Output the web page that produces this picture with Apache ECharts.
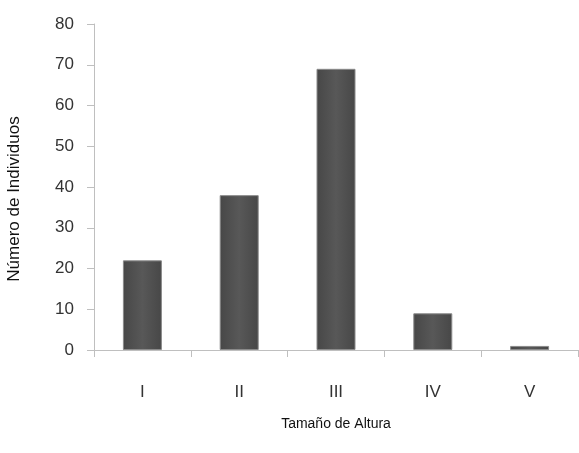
<!DOCTYPE html>
<html>
<head>
<meta charset="utf-8">
<script src="https://cdn.jsdelivr.net/npm/echarts@6/dist/echarts.min.js"></script>
<style>
html,body{margin:0;padding:0;background:#fff;}
#chart{width:579px;height:453px;}
</style>
</head>
<body>
<div id="chart"></div>
<script>
const categories = ['I', 'II', 'III', 'IV', 'V'];
const values = [22, 38, 69, 9, 1];
const yTicks = [0, 10, 20, 30, 40, 50, 60, 70, 80];

const chart = echarts.init(document.getElementById('chart'), null, {renderer: 'canvas'});
const barColor = {
  type: 'linear', x: 0, y: 0, x2: 1, y2: 0,
  colorStops: [
    {offset: 0, color: '#474747'},
    {offset: 0.5, color: '#585858'},
    {offset: 1, color: '#474747'}
  ]
};
chart.setOption({
  animation: false,
  backgroundColor: '#ffffff',
  grid: {left: 94, right: 1, top: 24, bottom: 103, containLabel: false, outerBoundsMode: 'none'},
  xAxis: {
    type: 'category',
    data: categories,
    name: 'Tamaño de Altura',
    nameLocation: 'middle',
    nameGap: 67,
    nameTextStyle: {fontFamily: 'Liberation Sans', fontSize: 14, color: '#111'},
    axisLine: {lineStyle: {color: '#bfbfbf', width: 1}},
    axisTick: {show: true, length: 7, lineStyle: {color: '#bfbfbf'}},
    axisLabel: {margin: 34, fontFamily: 'Liberation Sans', fontSize: 17, color: '#333'}
  },
  yAxis: {
    type: 'value',
    min: yTicks[0],
    max: yTicks[yTicks.length - 1],
    interval: 10,
    name: 'Número de Individuos',
    nameLocation: 'middle',
    nameGap: 71,
    nameTextStyle: {fontFamily: 'Liberation Sans', fontSize: 17, color: '#111', padding: [0, 24, 0, 0]},
    axisLine: {show: true, lineStyle: {color: '#bfbfbf', width: 1}},
    axisTick: {show: true, length: 7, lineStyle: {color: '#bfbfbf'}},
    splitLine: {show: false},
    axisLabel: {margin: 20, fontFamily: 'Liberation Sans', fontSize: 17, color: '#333'}
  },
  series: [{
    type: 'bar',
    data: values,
    barWidth: 39,
    itemStyle: {color: barColor, borderColor: '#8a8a8a', borderWidth: 1}
  }]
});
</script>
</body>
</html>
